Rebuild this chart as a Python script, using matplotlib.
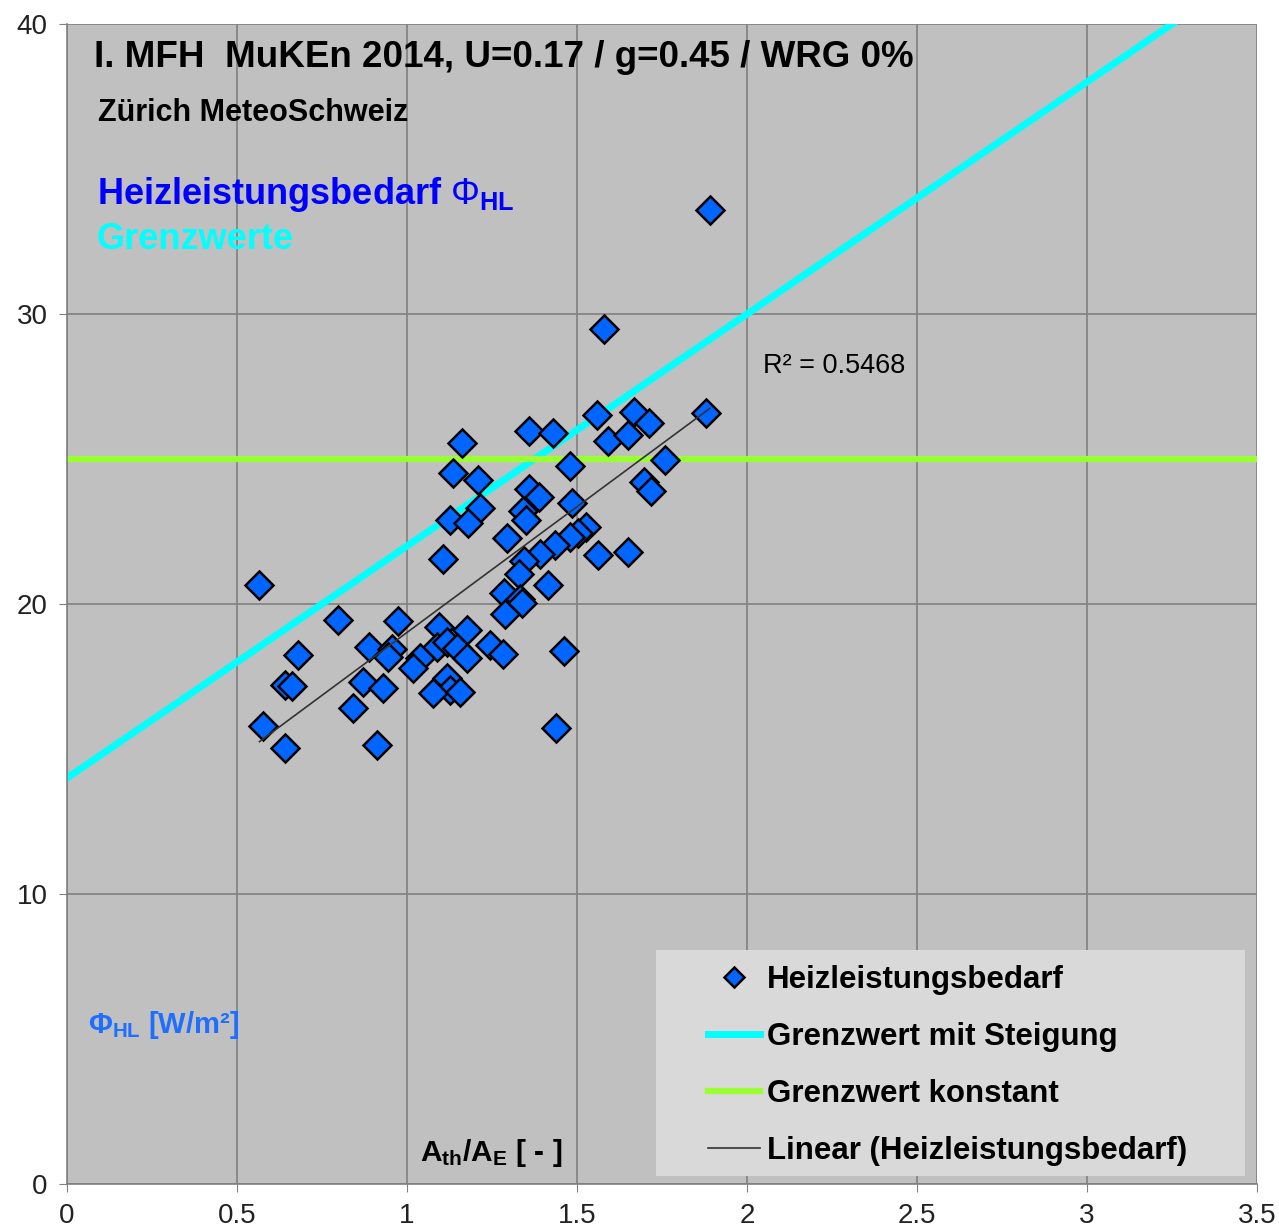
import numpy as np
import matplotlib
matplotlib.use("Agg")
import matplotlib.pyplot as plt
from matplotlib.patches import Rectangle

plt.rcParams['font.family'] = ['Liberation Sans', 'DejaVu Sans']
plt.rcParams['mathtext.fontset'] = 'custom'
plt.rcParams['mathtext.rm'] = 'Liberation Sans'
plt.rcParams['mathtext.bf'] = 'Liberation Sans:bold'
plt.rcParams['mathtext.it'] = 'Liberation Sans:italic'

# A_th/A_E ratio and heating load per building (W/m2)
ratio = [1.891, 1.579, 1.560, 1.668, 1.879, 1.712, 1.359, 1.429, 1.591, 1.650,
         1.162, 1.760, 1.478, 1.135, 1.210, 1.360, 1.387, 1.696, 1.718, 1.485,
         1.215, 1.340, 1.351, 1.126, 1.180, 1.293, 1.526, 1.503, 1.479, 1.435,
         1.390, 1.562, 1.650, 1.106, 1.343, 1.328, 1.416, 0.566, 1.285, 1.331,
         1.337, 1.289, 0.797, 0.974, 1.095, 1.177, 0.889, 0.955, 0.945, 1.087,
         1.117, 1.146, 1.176, 1.243, 1.281, 1.463, 1.038, 1.019, 0.680, 0.641,
         0.661, 0.871, 0.930, 1.117, 1.126, 1.077, 1.156, 0.842, 0.576, 1.438,
         0.913, 0.642]
load = [33.59, 29.48, 26.52, 26.62, 26.60, 26.24, 25.98, 25.90, 25.62, 25.83,
        25.55, 24.97, 24.76, 24.50, 24.28, 23.95, 23.69, 24.21, 23.91, 23.47,
        23.31, 23.19, 22.90, 22.88, 22.81, 22.27, 22.66, 22.45, 22.31, 22.03,
        21.72, 21.69, 21.79, 21.55, 21.48, 21.03, 20.66, 20.64, 20.37, 20.16,
        20.02, 19.64, 19.45, 19.41, 19.21, 19.10, 18.51, 18.45, 18.18, 18.53,
        18.70, 18.47, 18.13, 18.57, 18.26, 18.38, 18.13, 17.78, 18.24, 17.21,
        17.17, 17.32, 17.09, 17.44, 17.03, 16.92, 16.98, 16.40, 15.80, 15.74,
        15.14, 15.04]

# limit values: sloped limit 14 + 8*ratio, constant limit 25
limit_x = [0.0, 3.5]
limit_slope = [14.0, 42.0]
limit_const = [25.0, 25.0]

x = np.array(ratio)
y = np.array(load)
k, d = np.polyfit(x, y, 1)
fit_x = np.array([x.min(), x.max()])

fig = plt.figure(figsize=(12.79, 12.31), dpi=100)
ax = fig.add_axes([0.0524, 0.0382, 0.9304, 0.9423])
ax.set_facecolor('#C0C0C0')

l_sl, = ax.plot(limit_x, limit_slope, color='#00FFFF', lw=5, zorder=2,
                label='Grenzwert mit Steigung')
l_co, = ax.plot(limit_x, limit_const, color='#99FF33', lw=4.5, zorder=2,
                label='Grenzwert konstant')
pts, = ax.plot(x, y, ls='none', marker='D', ms=14, mfc='#0066FF', mec='black',
               mew=1.8, zorder=3, label='Heizleistungsbedarf')
l_fit, = ax.plot(fit_x, k * fit_x + d, color='#333333', lw=1.2, zorder=4,
                 label='Linear (Heizleistungsbedarf)')

ax.set_xlim(0, 3.5)
ax.set_ylim(0, 40)
ax.set_xticks(np.arange(0, 3.51, 0.5))
ax.set_xticklabels(['0', '0.5', '1', '1.5', '2', '2.5', '3', '3.5'])
ax.set_yticks([0, 10, 20, 30, 40])
ax.grid(True, color='#808080', lw=1.2)
ax.set_axisbelow(True)
ax.tick_params(labelsize=20, length=6, color='#808080', colors='#222222', pad=8)
for s in ['top', 'right']:
    ax.spines[s].set_visible(False)
for s in ['left', 'bottom']:
    ax.spines[s].set_color('#808080')
    ax.spines[s].set_linewidth(1.2)

ax.text(0.023, 0.971, 'I. MFH  MuKEn 2014, U=0.17 / g=0.45 / WRG 0%',
        transform=ax.transAxes, fontsize=26.5, fontweight='bold', va='center')
ax.text(0.026, 0.923, 'Zürich MeteoSchweiz', transform=ax.transAxes,
        fontsize=22, fontweight='bold', va='center')
ax.text(0.025, 0.853, r'Heizleistungsbedarf $\Phi_{\mathbf{HL}}$', transform=ax.transAxes,
        fontsize=26, fontweight='bold', color='#0000FF', va='center')
ax.text(0.025, 0.814, 'Grenzwerte', transform=ax.transAxes,
        fontsize=26, fontweight='bold', color='#00FFFF', va='center')
ax.text(0.585, 0.705, 'R² = 0.5468', transform=ax.transAxes, fontsize=19.5, va='center')
ax.text(0.018, 0.137, r'$\mathbf{\Phi_{HL}}$ [W/m²]', transform=ax.transAxes,
        fontsize=21, fontweight='bold', color='#1E6FFF', va='center')
ax.text(0.297, 0.027, r'$\mathbf{A_{th}/A_E}$ [ - ]', transform=ax.transAxes,
        fontsize=21.5, fontweight='bold', va='center')

# legend box drawn separately so the padding can be set freely
ax.add_patch(Rectangle((0.495, 0.0069), 0.495, 0.1948, transform=ax.transAxes,
                       facecolor='#D9D9D9', edgecolor='none', zorder=5))
leg = ax.legend(handles=[pts, l_sl, l_co, l_fit], loc='upper left',
                bbox_to_anchor=(0.5387, 0.189),
                prop={'weight': 'bold', 'size': 22.5}, frameon=False,
                handlelength=1.65, handletextpad=0.22, labelspacing=0.87,
                borderpad=0, borderaxespad=0, markerscale=0.75)
leg.set_zorder(6)

fig.savefig('out.png', dpi=100)
